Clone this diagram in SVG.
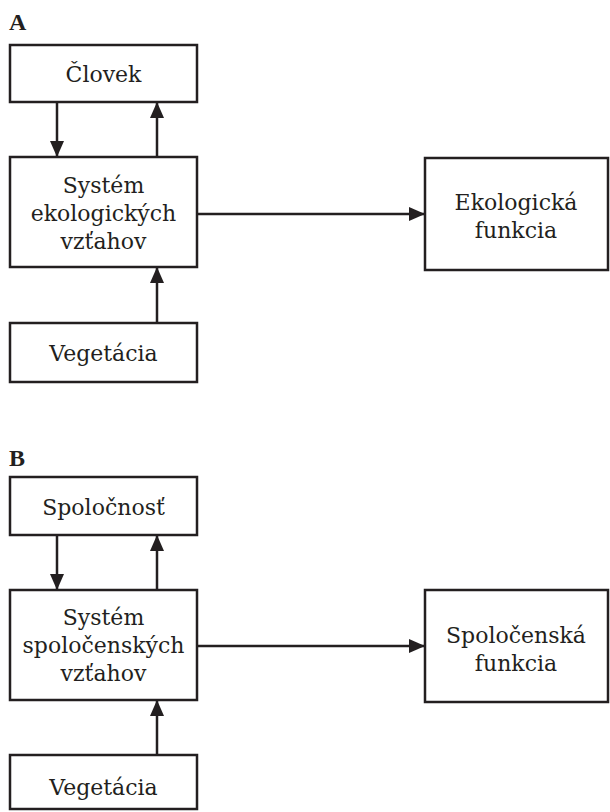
<svg xmlns="http://www.w3.org/2000/svg" width="610" height="812" viewBox="0 0 610 812">
<style>
.box{fill:#fff;stroke:#231f20;stroke-width:2.5}
.t{font-family:"DejaVu Serif","Liberation Serif",serif;font-size:22px;fill:#231f20;text-anchor:middle}
.lbl{font-family:"Liberation Serif",serif;font-size:24px;font-weight:bold;fill:#231f20}
.c{stroke:#231f20;stroke-width:2.5;fill:none;marker-end:url(#ah)}
</style>
<defs>
<marker id="ah" markerUnits="userSpaceOnUse" markerWidth="16" markerHeight="14" refX="16" refY="7" orient="auto">
<path d="M0,0 L16,7 L0,14 Z" fill="#231f20"/>
</marker>
</defs>
<text class="lbl" x="9" y="30">A</text>
<text class="lbl" x="9" y="466">B</text>
<g id="connectors">
<line class="c" x1="57" y1="102" x2="57" y2="157"/>
<line class="c" x1="157" y1="157" x2="157" y2="102"/>
<line class="c" x1="157" y1="323" x2="157" y2="267"/>
<line class="c" x1="197" y1="214" x2="425" y2="214"/>
<line class="c" x1="57" y1="535" x2="57" y2="590"/>
<line class="c" x1="157" y1="590" x2="157" y2="535"/>
<line class="c" x1="157" y1="755" x2="157" y2="700"/>
<line class="c" x1="197" y1="646" x2="425" y2="646"/>
</g>
<g id="clovek"><rect class="box" x="10" y="45" width="187" height="57"/><text class="t" x="103.5" y="82">Človek</text></g>
<g id="system-eko"><rect class="box" x="10" y="157" width="187" height="110"/><text class="t" x="103.5" y="193">Systém</text><text class="t" x="103.5" y="221">ekologických</text><text class="t" x="103.5" y="249">vzťahov</text></g>
<g id="vegetacia-a"><rect class="box" x="10" y="323" width="187" height="59"/><text class="t" x="103.5" y="361">Vegetácia</text></g>
<g id="eko-funkcia"><rect class="box" x="425" y="158" width="183" height="112"/><text class="t" x="516" y="210">Ekologická</text><text class="t" x="516" y="238">funkcia</text></g>
<g id="spolocnost"><rect class="box" x="10" y="477" width="187" height="58"/><text class="t" x="103.5" y="515">Spoločnosť</text></g>
<g id="system-spol"><rect class="box" x="10" y="590" width="187" height="110"/><text class="t" x="103.5" y="625">Systém</text><text class="t" x="103.5" y="653">spoločenských</text><text class="t" x="103.5" y="681">vzťahov</text></g>
<g id="vegetacia-b"><rect class="box" x="10" y="755" width="187" height="54"/><text class="t" x="103.5" y="795">Vegetácia</text></g>
<g id="spol-funkcia"><rect class="box" x="425" y="590" width="183" height="112"/><text class="t" x="516" y="643">Spoločenská</text><text class="t" x="516" y="671">funkcia</text></g>
</svg>
